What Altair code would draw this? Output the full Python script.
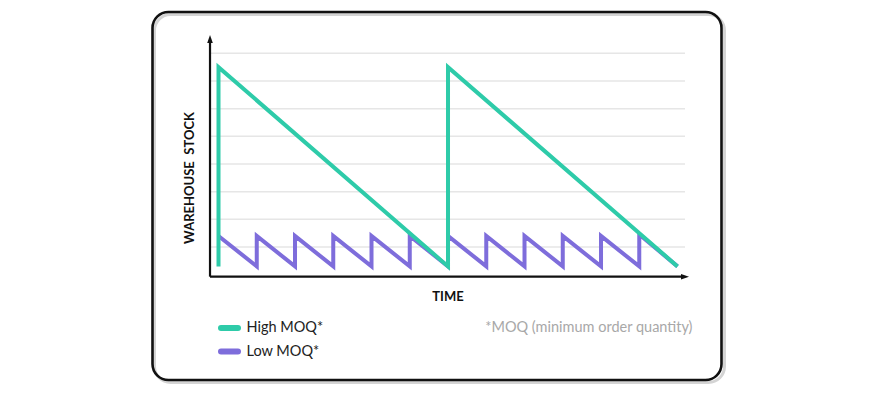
import altair as alt
import pandas as pd

# ---- data ----
time_green = [0, 0, 6, 6, 12]
stock_green = [0.3, 7.5, 0.3, 7.5, 0.3]

time_purple = [0, 1, 1, 2, 2, 3, 3, 4, 4, 5, 5, 6, 6, 7, 7, 8, 8, 9, 9, 10, 10, 11, 11, 12]
stock_purple = [1.4, 0.3, 1.4, 0.3, 1.4, 0.3, 1.4, 0.3, 1.4, 0.3, 1.4, 0.3,
                1.4, 0.3, 1.4, 0.3, 1.4, 0.3, 1.4, 0.3, 1.4, 0.3, 1.45, 0.3]

grid_levels = [1, 2, 3, 4, 5, 6, 7, 8]
grid_start, grid_end = -0.222, 12.196
axis_x0, axis_y0 = -0.222, -0.072
axis_top, axis_right = 8.4, 12.1
arrow_up_y, arrow_right_x = 8.52, 12.196

x_domain = [-1.7386, 13.163]
y_domain = [-3.806, 9.494]

GREEN = "#2ecba9"
PURPLE = "#7e6ddb"
W, H = 570, 368

legend_labels = ["High MOQ*", "Low MOQ*"]
legend_colors = [GREEN, PURPLE]
footnote = "*MOQ (minimum order quantity)"
x_title = "TIME"
y_title = "WAREHOUSE\u2002STOCK"

xs = alt.Scale(domain=x_domain, nice=False, zero=False)
ys = alt.Scale(domain=y_domain, nice=False, zero=False)

green_df = pd.DataFrame({"t": time_green, "s": stock_green, "i": range(len(time_green))})
purple_df = pd.DataFrame({"t": time_purple, "s": stock_purple, "i": range(len(time_purple))})
grid_df = pd.DataFrame({"k": grid_levels, "a": grid_start, "b": grid_end})
one = pd.DataFrame({"v": [0]})

shadow = alt.Chart(one).mark_rect(filled=False, stroke="#d4d4d4", strokeWidth=3, cornerRadius=16).encode(
    x=alt.value(2.5), x2=alt.value(W + 2.5), y=alt.value(2.5), y2=alt.value(H + 2.5))
frame = alt.Chart(one).mark_rect(filled=False, stroke="#111111", strokeWidth=2.6, cornerRadius=16).encode(
    x=alt.value(0.5), x2=alt.value(W - 0.5), y=alt.value(0), y2=alt.value(H))

grid = alt.Chart(grid_df).mark_rule(color="#e6e6e6", strokeWidth=1.5).encode(
    x=alt.X("a:Q", scale=xs, axis=None), x2="b:Q",
    y=alt.Y("k:Q", scale=ys, axis=None))

yaxis_df = pd.DataFrame({"x": [axis_x0], "y": [axis_y0], "y2": [axis_top]})
xaxis_df = pd.DataFrame({"x": [axis_x0], "x2": [axis_right], "y": [axis_y0]})
yaxis = alt.Chart(yaxis_df).mark_rule(color="#111111", strokeWidth=2.2).encode(
    x=alt.X("x:Q", scale=xs, axis=None), y=alt.Y("y:Q", scale=ys, axis=None), y2="y2:Q")
xaxis = alt.Chart(xaxis_df).mark_rule(color="#111111", strokeWidth=2.2).encode(
    x=alt.X("x:Q", scale=xs, axis=None), x2="x2:Q", y=alt.Y("y:Q", scale=ys, axis=None))

arrow_up = alt.Chart(pd.DataFrame({"x": [axis_x0], "y": [arrow_up_y]})).mark_point(
    shape="M-0.7,1L0,-1L0.7,1Z", filled=True, color="#111111", size=64, opacity=1).encode(
    x=alt.X("x:Q", scale=xs, axis=None), y=alt.Y("y:Q", scale=ys, axis=None))
arrow_right = alt.Chart(pd.DataFrame({"x": [arrow_right_x], "y": [axis_y0]})).mark_point(
    shape="M-1,-0.7L1,0L-1,0.7Z", filled=True, color="#111111", size=64, opacity=1).encode(
    x=alt.X("x:Q", scale=xs, axis=None), y=alt.Y("y:Q", scale=ys, axis=None))

purple = alt.Chart(purple_df).mark_line(color=PURPLE, strokeWidth=4).encode(
    x=alt.X("t:Q", scale=xs, axis=None), y=alt.Y("s:Q", scale=ys, axis=None), order="i:Q")
green = alt.Chart(green_df).mark_line(color=GREEN, strokeWidth=4).encode(
    x=alt.X("t:Q", scale=xs, axis=None), y=alt.Y("s:Q", scale=ys, axis=None), order="i:Q")

ytitle = alt.Chart(pd.DataFrame({"txt": [y_title]})).mark_text(
    font="Lato", fontWeight="bold", fontSize=13, angle=270, color="#111111",
    align="center", baseline="middle").encode(text="txt:N", x=alt.value(37.5), y=alt.value(166))
xtitle = alt.Chart(pd.DataFrame({"txt": [x_title]})).mark_text(
    font="Lato", fontWeight="bold", fontSize=13, color="#111111",
    align="center", baseline="middle").encode(text="txt:N", x=alt.value(296), y=alt.value(285))

leg_df = pd.DataFrame({"label": legend_labels, "color": legend_colors, "row": [0, 1]})
sw1 = alt.Chart(leg_df.iloc[[0]]).mark_rule(color=GREEN, strokeWidth=6, strokeCap="round").encode(
    x=alt.value(69), x2=alt.value(86), y=alt.value(316))
sw2 = alt.Chart(leg_df.iloc[[1]]).mark_rule(color=PURPLE, strokeWidth=6, strokeCap="round").encode(
    x=alt.value(69), x2=alt.value(86), y=alt.value(339.5))
lt1 = alt.Chart(leg_df.iloc[[0]]).mark_text(font="Lato", fontSize=14.5, color="#222222",
    align="left", baseline="middle").encode(text="label:N", x=alt.value(94.5), y=alt.value(316))
lt2 = alt.Chart(leg_df.iloc[[1]]).mark_text(font="Lato", fontSize=14.5, color="#222222",
    align="left", baseline="middle").encode(text="label:N", x=alt.value(94.5), y=alt.value(339.5))
note = alt.Chart(pd.DataFrame({"txt": [footnote]})).mark_text(font="Lato", fontSize=14.5, color="#a8a8a8",
    align="right", baseline="middle").encode(text="txt:N", x=alt.value(540.5), y=alt.value(316))

chart = alt.layer(
    shadow, frame, grid, xaxis, yaxis, arrow_up, arrow_right, purple, green,
    ytitle, xtitle, sw1, sw2, lt1, lt2, note
).properties(
    width=W, height=H,
    padding={"left": 144, "top": 4, "right": 145, "bottom": 8},
    autosize="none",
).configure_view(stroke=None)

chart.save("out.html", embed_options={"renderer": "svg", "actions": False})
